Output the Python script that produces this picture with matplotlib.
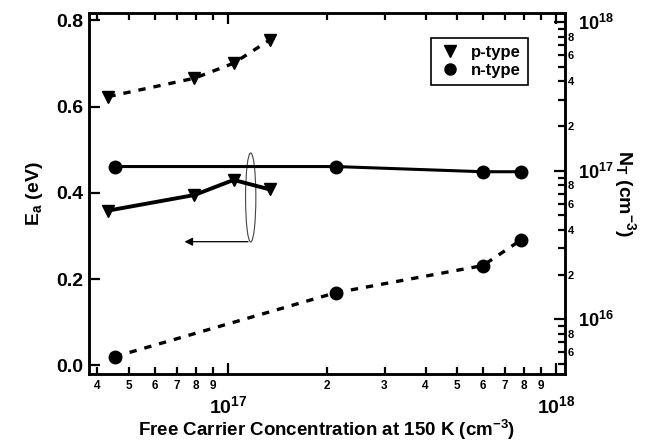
import math

import matplotlib
matplotlib.use("Agg")
import matplotlib.pyplot as plt
from matplotlib.patches import Ellipse
from matplotlib.lines import Line2D
from matplotlib import ticker

plt.rcParams['font.family'] = ['Liberation Sans', 'DejaVu Sans']
plt.rcParams['font.weight'] = 'bold'
plt.rcParams['mathtext.fontset'] = 'custom'
plt.rcParams['mathtext.rm'] = 'Liberation Sans:bold'
plt.rcParams['mathtext.bf'] = 'Liberation Sans:bold'
plt.rcParams['mathtext.it'] = 'Liberation Sans:bold'

# free carrier concentration at 150 K (cm^-3)
p_conc = [4.32e16, 7.9e16, 1.04e17, 1.34e17]
n_conc = [4.52e16, 2.13e17, 5.98e17, 7.82e17]

# activation energy (left axis, solid lines)
p_ea = [0.359, 0.395, 0.430, 0.408]
n_ea = [0.461, 0.461, 0.449, 0.449]

# trap density (right axis, dashed lines)
p_nt = [3.16e17, 4.2e17, 5.3e17, 7.6e17]
n_nt = [5.6e15, 1.51e16, 2.3e16, 3.42e16]


def minor_x(v, pos):
    d = int(round(v / 10 ** math.floor(math.log10(v) + 1e-9)))
    return str(d)


def minor_right(v, pos):
    d = int(round(v / 10 ** math.floor(math.log10(v) + 1e-9)))
    return str(d) if d % 2 == 0 else ''


def major_log(v, pos):
    return r'$\mathbf{10^{%d}}$' % int(round(math.log10(v)))


fig = plt.figure(figsize=(6.52, 4.42), dpi=100)
ax = fig.add_axes([0.1365, 0.1538, 0.7301, 0.8168])
ax2 = ax.twinx()

dash = (0, (2.2, 2.4))

ax.plot(p_conc, p_ea, color='black', lw=2.8, marker='v', ms=9, zorder=3)
ax.plot(n_conc, n_ea, color='black', lw=2.2, marker='o', ms=9, zorder=3)
ax2.plot(p_conc, p_nt, color='black', lw=2.4, ls=dash, marker='v', ms=9)
ax2.plot(n_conc, n_nt, color='black', lw=2.4, ls=dash, marker='o', ms=9)

ax.set_xscale('log')
ax.set_xlim(3.77e16, 1.065e18)
ax.set_ylim(-0.020, 0.817)
ax2.set_yscale('log')
ax2.set_ylim(4.28e15, 1.155e18)

ax.set_yticks([0.0, 0.2, 0.4, 0.6, 0.8])
ax.yaxis.set_major_formatter(ticker.FormatStrFormatter('%.1f'))

ax.xaxis.set_major_locator(ticker.LogLocator(base=10))
ax.xaxis.set_minor_locator(ticker.LogLocator(base=10, subs=range(2, 10)))
ax.xaxis.set_major_formatter(ticker.FuncFormatter(major_log))
ax.xaxis.set_minor_formatter(ticker.FuncFormatter(minor_x))

ax2.yaxis.set_major_locator(ticker.LogLocator(base=10))
ax2.yaxis.set_minor_locator(ticker.LogLocator(base=10, subs=range(2, 10)))
ax2.yaxis.set_major_formatter(ticker.FuncFormatter(major_log))
ax2.yaxis.set_minor_formatter(ticker.FuncFormatter(minor_right))

ax.tick_params(axis='x', which='both', direction='in', top=True, width=1.6)
ax.tick_params(axis='x', which='major', length=8, pad=15, labelsize=14)
ax.tick_params(axis='x', which='minor', length=5, pad=4, labelsize=8.5)
ax.tick_params(axis='y', which='major', direction='in', length=8, width=1.6,
               pad=4, labelsize=14, right=False)
ax2.tick_params(axis='y', which='both', direction='in', width=1.6)
ax2.tick_params(axis='y', which='major', length=8, pad=9, labelsize=13)
ax2.tick_params(axis='y', which='minor', length=5, pad=2, labelsize=8)

for a in (ax, ax2):
    for s in a.spines.values():
        s.set_linewidth(1.8)

ax.set_xlabel(r'Free Carrier Concentration at 150 K (cm$^{-3}$)', fontsize=13.5,
              fontweight='bold', labelpad=1)
ax.set_ylabel(r'E$_{\mathregular{a}}$ (eV)', fontsize=14, fontweight='bold', labelpad=8)
ax2.set_ylabel(r'N$_{\mathregular{T}}$ (cm$^{-3}$)', fontsize=14, fontweight='bold',
               rotation=270, labelpad=18)

# ellipse marking the curve read on the left axis
ax.add_patch(Ellipse((0.3397, 0.489), 0.0216, 0.2465, transform=ax.transAxes,
                     fill=False, edgecolor='#444444', lw=0.8))
ax.annotate('', xy=(0.1947, 0.3665), xytext=(0.3397, 0.3665),
            xycoords='axes fraction',
            arrowprops=dict(arrowstyle='-|>', color='black', lw=0.9,
                            mutation_scale=12))

handles = [Line2D([], [], color='black', marker='v', ls='none', ms=8),
           Line2D([], [], color='black', marker='o', ls='none', ms=8)]
leg = ax2.legend(handles, ['p-type', 'n-type'], loc='upper right',
                 bbox_to_anchor=(0.939, 0.953), fancybox=False, framealpha=1,
                 edgecolor='black', prop={'size': 12, 'weight': 'bold'},
                 handletextpad=0.5, borderpad=0.4, labelspacing=0.2,
                 handlelength=1.5)
leg.get_frame().set_linewidth(1.2)

fig.savefig('out.png', dpi=100)
